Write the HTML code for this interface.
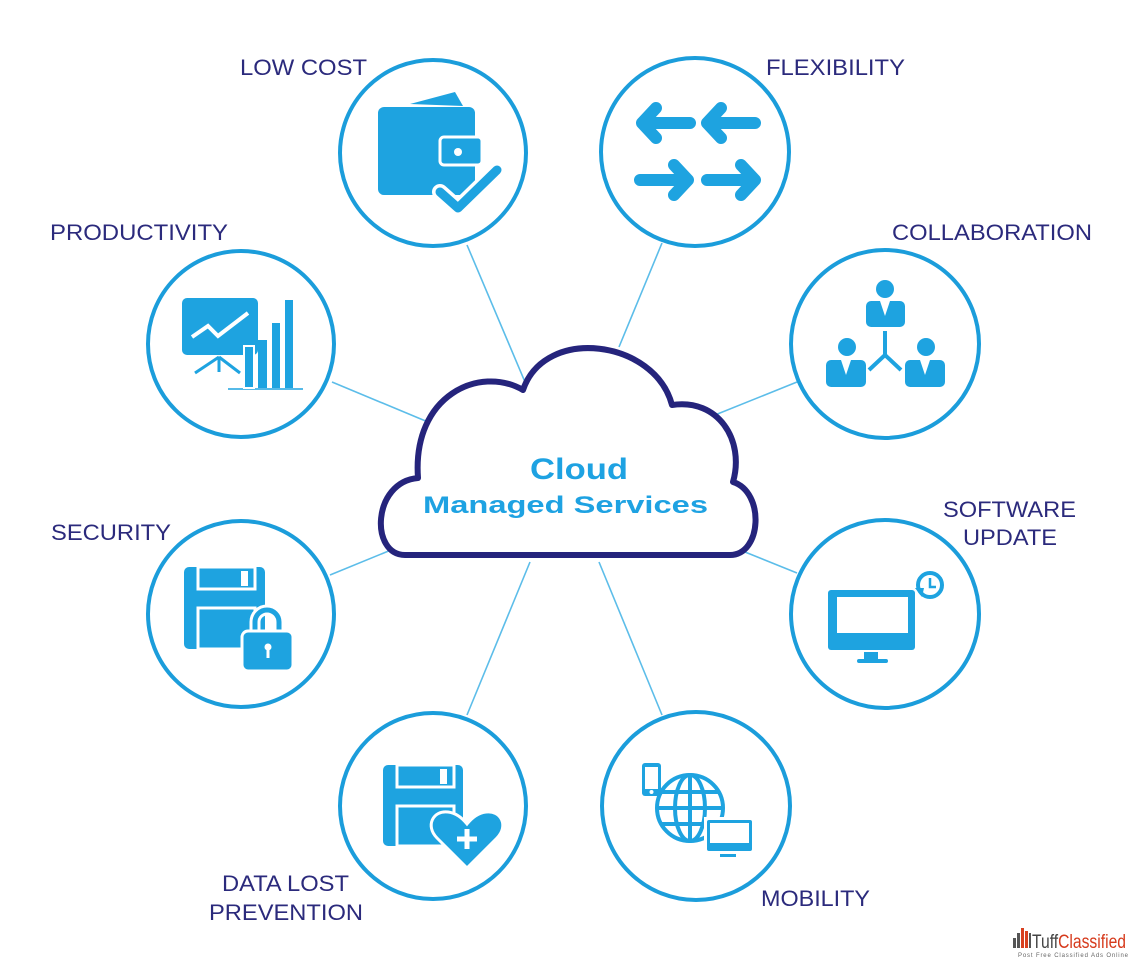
<!DOCTYPE html>
<html><head><meta charset="utf-8"><style>
html,body{margin:0;padding:0;background:#fff;}
svg{display:block;}
.lbl{font-family:"Liberation Sans",sans-serif;font-size:22px;fill:#2b2a7c;}
</style></head><body>
<svg width="1130" height="960" viewBox="0 0 1130 960" xmlns="http://www.w3.org/2000/svg">
<rect width="1130" height="960" fill="#fff"/>
<!-- connectors -->
<g stroke="#5cbde9" stroke-width="1.6" fill="none">
<line x1="467" y1="245" x2="525" y2="382"/>
<line x1="332" y1="382" x2="428" y2="422"/>
<line x1="662" y1="243" x2="619" y2="347"/>
<line x1="797" y1="382" x2="710" y2="417"/>
<line x1="797" y1="573" x2="740" y2="550"/>
<line x1="662" y1="715" x2="599" y2="562"/>
<line x1="330" y1="575" x2="391" y2="550"/>
<line x1="467" y1="715" x2="530" y2="562"/>
</g>
<!-- circles -->
<g stroke="#1b9ddb" stroke-width="4" fill="#fff">
<circle cx="433" cy="153" r="93"/>
<circle cx="695" cy="152" r="94"/>
<circle cx="241" cy="344" r="93"/>
<circle cx="885" cy="344" r="94"/>
<circle cx="241" cy="614" r="93"/>
<circle cx="885" cy="614" r="94"/>
<circle cx="433" cy="806" r="93"/>
<circle cx="696" cy="806" r="94"/>
</g>
<!-- cloud -->
<path d="M405,555 L730,555 C762,555 765,492 733,482 C745,440 718,398 672,405 C655,340 545,325 523,390 C480,365 412,395 418,478 C372,482 370,555 405,555 Z" fill="#fff" stroke="#25247c" stroke-width="6" stroke-linejoin="round"/>
<text x="579" y="479" text-anchor="middle" font-family="Liberation Sans,sans-serif" font-weight="bold" font-size="30" fill="#1ea2e2" textLength="98" lengthAdjust="spacingAndGlyphs">Cloud</text>
<text x="423" y="513" font-family="Liberation Sans,sans-serif" font-weight="bold" font-size="24" fill="#1ea2e2" textLength="285" lengthAdjust="spacingAndGlyphs">Managed Services</text>
<!-- labels -->
<text class="lbl" x="240" y="75" textLength="127" lengthAdjust="spacingAndGlyphs">LOW COST</text>
<text class="lbl" x="766" y="75" textLength="139" lengthAdjust="spacingAndGlyphs">FLEXIBILITY</text>
<text class="lbl" x="50" y="240" textLength="178" lengthAdjust="spacingAndGlyphs">PRODUCTIVITY</text>
<text class="lbl" x="892" y="240" textLength="200" lengthAdjust="spacingAndGlyphs">COLLABORATION</text>
<text class="lbl" x="51" y="540" textLength="120" lengthAdjust="spacingAndGlyphs">SECURITY</text>
<text class="lbl" x="943" y="517" textLength="133" lengthAdjust="spacingAndGlyphs">SOFTWARE</text>
<text class="lbl" x="963" y="545" textLength="94" lengthAdjust="spacingAndGlyphs">UPDATE</text>
<text class="lbl" x="222" y="891" textLength="127" lengthAdjust="spacingAndGlyphs">DATA LOST</text>
<text class="lbl" x="209" y="920" textLength="154" lengthAdjust="spacingAndGlyphs">PREVENTION</text>
<text class="lbl" x="761" y="906" textLength="109" lengthAdjust="spacingAndGlyphs">MOBILITY</text>
<g fill="#1ea3e0">
<!-- wallet -->
<path d="M410,104 L455,92 L463,106 Z"/>
<rect x="378" y="107" width="97" height="88" rx="6"/>
<rect x="440" y="137" width="42" height="28" rx="4" fill="#1ea3e0" stroke="#fff" stroke-width="3"/>
<circle cx="458" cy="152" r="4" fill="#fff"/>
<polyline points="440,192 458,208 497,170" fill="none" stroke="#fff" stroke-width="16" stroke-linecap="round" stroke-linejoin="round"/>
<polyline points="440,192 458,208 497,170" fill="none" stroke="#1ea3e0" stroke-width="9" stroke-linecap="round" stroke-linejoin="round"/>
<!-- productivity -->
<rect x="182" y="298" width="76" height="57" rx="5"/>
<polyline points="192,337 208,326 218,336 248,313" fill="none" stroke="#fff" stroke-width="4"/>
<g stroke="#1ea3e0" stroke-width="3"><line x1="219" y1="357" x2="195" y2="373"/><line x1="219" y1="357" x2="219" y2="372"/><line x1="219" y1="357" x2="240" y2="373"/><line x1="228" y1="389" x2="303" y2="389" stroke-width="1.5"/></g>
<rect x="244" y="346" width="10" height="42" stroke="#fff" stroke-width="2"/>
<rect x="258" y="340" width="9" height="48"/>
<rect x="272" y="323" width="8" height="65"/>
<rect x="285" y="300" width="8" height="88"/>
<!-- flexibility arrows -->
<g fill="none" stroke="#1ea3e0" stroke-width="12" stroke-linecap="round" stroke-linejoin="round">
<path d="M690,123 H642 M656,108 L642,123 L656,138"/>
<path d="M755,123 H707 M721,108 L707,123 L721,138"/>
<path d="M640,180 H688 M674,165 L688,180 L674,195"/>
<path d="M707,180 H755 M741,165 L755,180 L741,195"/>
</g>
<!-- collaboration -->
<circle cx="885" cy="289" r="9"/>
<rect x="866" y="301" width="39" height="26" rx="5"/>
<path d="M880,301 L885,316 L890,301 Z" fill="#fff"/>
<circle cx="847" cy="347" r="9"/>
<rect x="826" y="360" width="40" height="27" rx="5"/>
<path d="M841,360 L846,375 L851,360 Z" fill="#fff"/>
<circle cx="926" cy="347" r="9"/>
<rect x="905" y="360" width="40" height="27" rx="5"/>
<path d="M920,360 L925,375 L930,360 Z" fill="#fff"/>
<path d="M885,331 V355 M885,355 L869,370 M885,355 L901,370" stroke="#1ea3e0" stroke-width="4" fill="none"/>
<!-- security floppy -->
<rect x="184" y="567" width="81" height="82" rx="5"/>
<rect x="198" y="567" width="57" height="22" fill="none" stroke="#fff" stroke-width="3"/>
<rect x="241" y="571" width="7" height="15" fill="#fff"/>
<rect x="198" y="608" width="57" height="41" fill="none" stroke="#fff" stroke-width="3"/>
<path d="M255,633 V622 a12,12 0 0 1 24,0 V633" fill="none" stroke="#fff" stroke-width="11"/>
<path d="M255,633 V622 a12,12 0 0 1 24,0 V633" fill="none" stroke="#1ea3e0" stroke-width="5"/>
<rect x="242" y="631" width="51" height="40" rx="6" stroke="#fff" stroke-width="3"/>
<circle cx="268" cy="647" r="3.5" fill="#fff"/><rect x="266.5" y="648" width="3" height="10" fill="#fff"/>
<!-- data lost floppy -->
<rect x="383" y="765" width="80" height="81" rx="5"/>
<rect x="397" y="765" width="57" height="22" fill="none" stroke="#fff" stroke-width="3"/>
<rect x="440" y="769" width="7" height="15" fill="#fff"/>
<rect x="397" y="806" width="57" height="40" fill="none" stroke="#fff" stroke-width="3"/>
<path d="M467,868 L437,838 C425,826 433,810 448,812 C457,813 463,819 467,824 C471,819 477,813 486,812 C501,810 509,826 497,838 Z" stroke="#fff" stroke-width="3"/>
<path d="M467,829 V849 M457,839 H477" stroke="#fff" stroke-width="5"/>
<!-- software update -->
<rect x="828" y="590" width="87" height="60" rx="3"/>
<rect x="837" y="597" width="71" height="36" fill="#fff"/>
<rect x="864" y="652" width="14" height="7"/>
<rect x="857" y="659" width="31" height="4" rx="2"/>
<circle cx="930" cy="585" r="12" fill="none" stroke="#1ea3e0" stroke-width="4"/>
<path d="M930,578 V587 H936" fill="none" stroke="#1ea3e0" stroke-width="2.5"/>
<path d="M915,588 L922,597 L924,588 Z"/>
<!-- mobility -->
<rect x="642" y="763" width="19" height="33" rx="3"/>
<rect x="645" y="767" width="13" height="22" fill="#fff"/>
<circle cx="651.5" cy="792" r="2" fill="#fff"/>
<g fill="none" stroke="#1ea3e0" stroke-width="4">
<circle cx="690" cy="808" r="33"/>
<ellipse cx="690" cy="808" rx="15" ry="33"/>
<line x1="690" y1="775" x2="690" y2="841"/>
<line x1="657" y1="808" x2="723" y2="808"/>
<line x1="662" y1="792" x2="718" y2="792"/>
<line x1="662" y1="824" x2="718" y2="824"/>
</g>
<rect x="704" y="817" width="51" height="37" fill="#fff"/>
<rect x="707" y="820" width="45" height="31" rx="2"/>
<rect x="710" y="823" width="39" height="20" fill="#fff"/>
<rect x="720" y="854" width="16" height="3"/>
</g>
<!-- logo -->
<g fill="#555">
<rect x="1013" y="938" width="3" height="10"/><rect x="1017" y="933" width="3" height="15"/>
</g>
<g fill="#d8401f"><rect x="1021" y="928" width="3" height="20"/><rect x="1025" y="931" width="3" height="17"/></g>
<rect x="1029" y="933" width="2" height="15" fill="#555"/>
<text x="1032" y="948" font-family="Liberation Sans,sans-serif" font-size="19" textLength="94" lengthAdjust="spacingAndGlyphs"><tspan fill="#444">Tuff</tspan><tspan fill="#d63a1c">Classified</tspan></text>
<text x="1018" y="957" font-family="Liberation Sans,sans-serif" font-size="6" fill="#666" textLength="110" lengthAdjust="spacing">Post Free Classified Ads Online</text>
</svg>
</body></html>
